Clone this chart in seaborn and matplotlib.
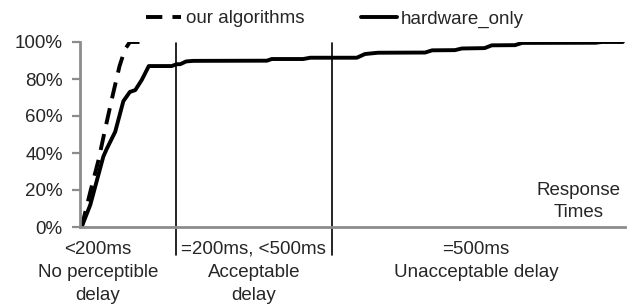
import matplotlib
matplotlib.use("Agg")
import matplotlib.pyplot as plt
import seaborn as sns
import pandas as pd
from matplotlib.lines import Line2D

# ---- data ----
algo_x = [0.1, 1.7, 3.2, 4.6, 5.9, 7.1, 8.1, 9.0, 11.4]
algo_y = [0, 19, 36, 55, 72, 87, 96, 100, 100]

hw_x = [0.1, 1.7, 4.1, 4.7, 6.3, 7.8, 9.0, 10.0, 11.2, 12.5, 16.7, 17.7, 18.3,
        19.4, 20.7, 34.3, 35.2, 41.0, 42.3, 50.9, 52.4, 54.8, 63.5, 64.8,
        69.0, 70.3, 74.5, 75.8, 80.1, 81.4, 95.0, 96.1, 100]
hw_y = [0, 12, 38, 42, 51.5, 68, 73, 74, 79.5, 87, 87, 88, 88,
        89.5, 89.8, 89.9, 90.8, 90.8, 91.5, 91.5, 93.5, 94.2, 94.3, 95.5,
        95.6, 96.5, 96.7, 98.2, 98.3, 99.5, 99.6, 100, 100]

boundaries = [17.6, 46.4]
cat_pos = [3.1, 31.9, 72.9]
cat_labels = ["<200ms\nNo perceptible\ndelay",
              "=200ms, <500ms\nAcceptable\ndelay",
              "=500ms\nUnacceptable delay"]
y_ticks = [0, 20, 40, 60, 80, 100]
y_labels = ["0%", "20%", "40%", "60%", "80%", "100%"]
series_names = ["our algorithms", "hardware_only"]

FS = 13.5
LW = 2.8
DASH = (0, (4.2, 2.6))

sns.set_style("white")
plt.rcParams['font.family'] = ['Liberation Sans', 'DejaVu Sans']
plt.rcParams['font.size'] = FS

fig = plt.figure(figsize=(6.37, 3.05), dpi=100)
ax = fig.add_axes([80/637, 78/305, 545/637, 185/305])

df_a = pd.DataFrame({"x": algo_x, "y": algo_y})
df_h = pd.DataFrame({"x": hw_x, "y": hw_y})
sns.lineplot(data=df_a, x="x", y="y", ax=ax, color="black", lw=LW,
             linestyle=DASH, estimator=None, sort=False)
sns.lineplot(data=df_h, x="x", y="y", ax=ax, color="black", lw=LW,
             estimator=None, sort=False)

for b in boundaries:
    ax.plot([b, b], [-15, 99.5], color="black", lw=1.2, clip_on=False)

ax.set_xlim(-0.2, 100.4)
ax.set_ylim(0, 100)
ax.set_yticks(y_ticks)
ax.set_yticklabels(y_labels, fontsize=FS)
ax.set_xticks(cat_pos)
ax.set_xticklabels(cat_labels, fontsize=FS, linespacing=1.45)
ax.tick_params(axis='x', length=0, pad=10)
ax.tick_params(axis='y', length=5.5, width=1.6, color="#8c8c8c", pad=7, direction='out', left=True)
ax.set_xlabel("")
ax.set_ylabel("")

for s in ["top", "right"]:
    ax.spines[s].set_visible(False)
for s in ["left", "bottom"]:
    ax.spines[s].set_color("#8c8c8c")
    ax.spines[s].set_linewidth(2.0)

ax.text(579/637, (305-201.5)/305, "Response\nTimes", transform=fig.transFigure,
        ha="center", va="center", fontsize=FS, linespacing=1.45)

handles = [Line2D([0], [0], color="black", lw=LW, linestyle=DASH),
           Line2D([0], [0], color="black", lw=LW)]
fig.legend(handles, series_names, loc="center", bbox_to_anchor=(335/637, 1-19/305),
           ncol=2, frameon=False, fontsize=FS, handlelength=1.9,
           handletextpad=0.25, columnspacing=3.0)

fig.savefig("out.png", dpi=100)
